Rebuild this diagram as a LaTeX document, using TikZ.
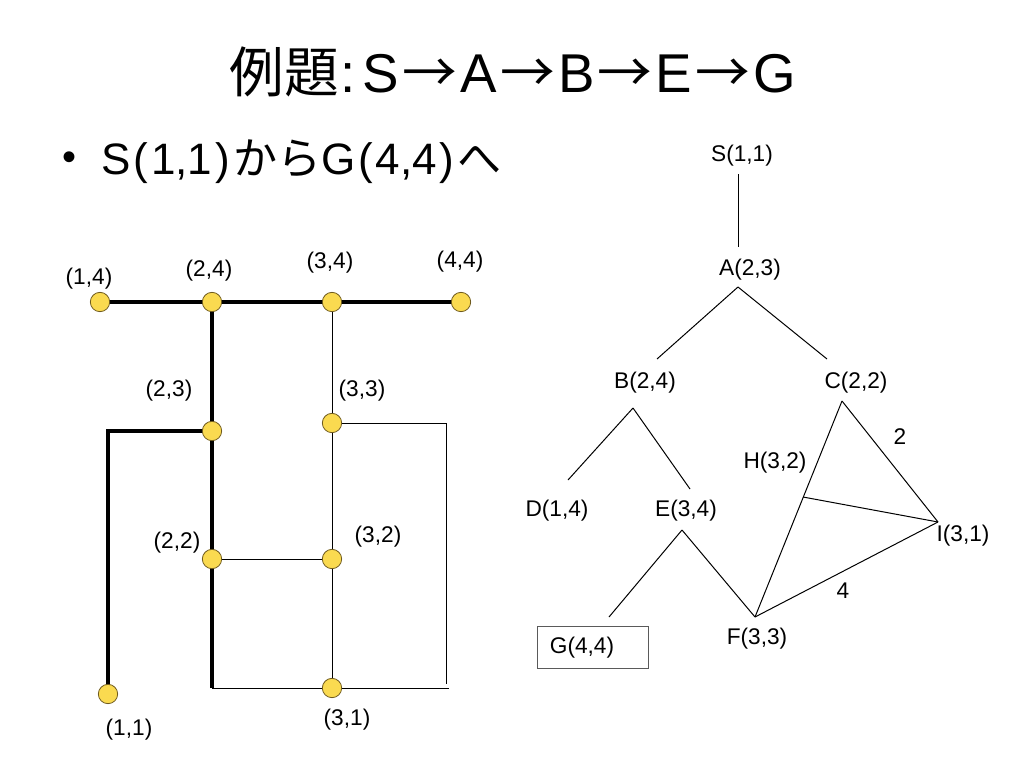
\documentclass[tikz,border=0pt]{standalone}
\usepackage{fontspec}
\setmainfont{Liberation Sans}
\newfontfamily\cjk{Noto Sans CJK JP}
\definecolor{dotfill}{RGB}{250,218,80}
\definecolor{dotline}{RGB}{110,90,30}
\definecolor{boxline}{RGB}{90,90,90}
\newcommand{\tarrow}{\kern2.5pt{\cjk →}\kern2.5pt}

\begin{document}
\begin{tikzpicture}[x=0.75pt,y=0.75pt,yscale=-1,xscale=1,
  dot/.style={circle,draw=dotline,fill=dotfill,line width=0.6pt,minimum size=14.5pt,inner sep=0pt},
  lbl/.style={inner sep=0.75pt,font=\fontsize{17}{20}\selectfont},
  boldedge/.style={line width=2.4pt},
  thinedge/.style={line width=0.75pt}]
\useasboundingbox (0,0) rectangle (1024,768);

% Title
\draw (513,72) node [inner sep=0.75pt] [font=\fontsize{41}{48}\selectfont] (title) {{\cjk 例題}\kern1pt:\kern5pt S\tarrow A\tarrow B\tarrow E\tarrow G};
% Bullet
\draw (70,161) node [inner sep=0.75pt] [font=\fontsize{30}{36}\selectfont] (bul) {•};
\draw (100,162) node [anchor=west][inner sep=0.75pt] [font=\fontsize{33}{40}\selectfont] (task) {S\kern2.5pt(\kern2pt1,1\kern2pt)\kern2.5pt{\cjk から}G\kern2.5pt(\kern2pt4,4\kern2pt)\kern2.5pt{\cjk へ}};

%Left graph: corners
\coordinate (k23) at (108,431);
\coordinate (k44) at (471,302);
\coordinate (k33) at (446,423);
\coordinate (k33b) at (446,684);
\coordinate (k24b) at (212,688);
\coordinate (k31) at (449,688);

%Thin lines
\draw [thinedge] (332,302) -- (332,688) ;
\draw [thinedge] (212,559) -- (332,559) ;
\draw [thinedge] (332,423) -- (k33) -- (k33b) ;
\draw [thinedge] (k24b) -- (k31) ;
%Thick lines
\draw [boldedge] (100,302) -- (k44) ;
\draw [boldedge] (212,302) -- (k24b) ;
\draw [boldedge] (212,431) -- (k23) -- (108,694) ;

%Dots
\node [dot] (p14) at (100,302) {};
\node [dot] (p24) at (212,302) {};
\node [dot] (p34) at (332,302) {};
\node [dot] (p44) at (461,302) {};
\node [dot] (p23) at (212,431) {};
\node [dot] (p33) at (332,423) {};
\node [dot] (p22) at (212,559) {};
\node [dot] (p32) at (332,559) {};
\node [dot] (p11) at (108,694) {};
\node [dot] (p31) at (332,688) {};

% Text Node
\draw (89,279) node [lbl] (t14) {(1,4)};
\draw (209,271) node [lbl] (t24) {(2,4)};
\draw (330,263) node [lbl] (t34) {(3,4)};
\draw (460,262) node [lbl] (t44) {(4,4)};
\draw (169,391) node [lbl] (t23) {(2,3)};
\draw (362,391) node [lbl] (t33) {(3,3)};
\draw (177,543) node [lbl] (t22) {(2,2)};
\draw (378,537) node [lbl] (t32) {(3,2)};
\draw (129,730) node [lbl] (t11) {(1,1)};
\draw (347,720) node [lbl] (t31) {(3,1)};

%Tree: text nodes
\draw (742,156) node [lbl] (S) {S(1,1)};
\draw (750,270) node [lbl] (A) {A(2,3)};
\draw (645,383) node [lbl] (B) {B(2,4)};
\draw (856,383) node [lbl] (C) {C(2,2)};
\draw (557,511) node [lbl] (D) {D(1,4)};
\draw (686,511) node [lbl] (E) {E(3,4)};
\draw (775,463) node [lbl] (H) {H(3,2)};
\draw (963,536) node [lbl] (I) {I(3,1)};
\draw (757,639) node [lbl] (F) {F(3,3)};
\draw (900,437) node [lbl] (w2) {2};
\draw (843,591) node [lbl] (w4) {4};
%Shape: Rectangle
\draw [boxline,line width=0.75pt] (537,626) rectangle (648,668);
\draw (582,648) node [lbl] (G) {G(4,4)};

%Tree: line ends
\coordinate (sS) at (738,174);
\coordinate (nA) at (738,247);
\coordinate (sA) at (738,287);
\coordinate (nB) at (657,359);
\coordinate (nC) at (827,359);
\coordinate (sB) at (633,408);
\coordinate (nD) at (568,480);
\coordinate (nE) at (690,489);
\coordinate (sE) at (682,530);
\coordinate (nG) at (609,617);
\coordinate (nF) at (755,617);
\coordinate (sC) at (842,401);
\coordinate (pH) at (803,497);
\coordinate (pI) at (938,522);

%Straight Lines
\draw [thinedge] (sS) -- (nA) ;
\draw [thinedge] (sA) -- (nB) ;
\draw [thinedge] (sA) -- (nC) ;
\draw [thinedge] (sB) -- (nD) ;
\draw [thinedge] (sB) -- (nE) ;
\draw [thinedge] (sE) -- (nG) ;
\draw [thinedge] (sE) -- (nF) ;
\draw [thinedge] (sC) -- (nF) ;
\draw [thinedge] (sC) -- (pI) ;
\draw [thinedge] (pH) -- (pI) ;
\draw [thinedge] (nF) -- (pI) ;

\end{tikzpicture}
\end{document}
